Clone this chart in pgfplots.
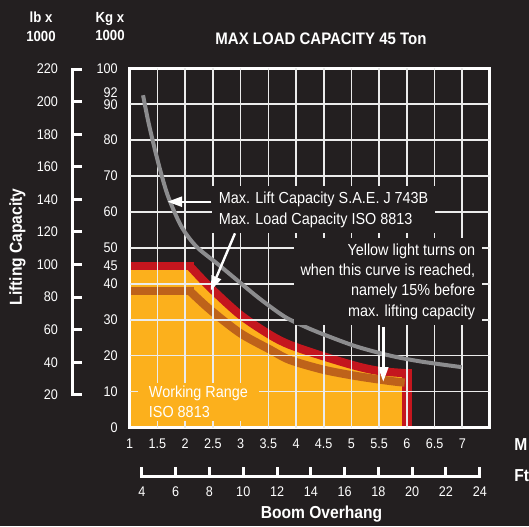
\documentclass[border=0pt]{standalone}
\usepackage{fontspec}
\setmainfont{Liberation Sans}[FakeStretch=0.9]
\usepackage{xcolor}
\usepackage{pgfplots}
\pgfplotsset{compat=1.18}
\usetikzlibrary{arrows.meta}
\definecolor{bgc}{RGB}{35,31,32}
\definecolor{yel}{RGB}{252,176,28}
\definecolor{redc}{RGB}{196,22,30}
\definecolor{orng}{RGB}{190,98,26}
\definecolor{greyc}{RGB}{140,140,142}
\definecolor{gridc}{RGB}{235,235,235}
\pagecolor{bgc}

\pgfplotsset{
  chartbox/.style={
    scale only axis, width=270.19pt, height=269.4pt,
    xmin=1, xmax=7.5, ymin=0, ymax=100,
    xtick={1,1.5,2,2.5,3,3.5,4,4.5,5,5.5,6,6.5,7},
    ytick={0,10,...,100},
  },
}

\begin{document}
\begin{tikzpicture}

% bands, kg x 1000 against metres
\begin{axis}[
  chartbox,
  axis line style={draw=none},
  xticklabels={1,1.5,2,2.5,3,3.5,4,4.5,5,5.5,6,6.5,7},
  extra y ticks={45,92},
  extra y tick labels={45,\raisebox{6.5pt}{92}},
  major tick length=0pt,
  ticklabel style={white, font=\fontsize{10.5}{12}\selectfont},
  xticklabel style={anchor=base, yshift=-16.1pt},
  yticklabel style={xshift=-5.5pt},
  /pgf/number format/assume math mode=true,
]
% working range (yellow)
\addplot[draw=none, fill=yel]
  coordinates {(1,45.0) (2.08,45.0)} \closedcycle;
\addplot[draw=none, fill=yel, smooth]
  coordinates {(2.08,45.0) (2.45,39.0) (2.99,31.4) (3.53,25.8) (3.89,23.0)
               (4.49,19.85) (5.1,17.05) (5.52,15.7) (6.0,15.1)} \closedcycle;
% max load capacity ISO 8813 (red band)
\addplot[redc, line width=6.2pt, line cap=rect]
  coordinates {(1,45.0) (2.08,45.0)};
\addplot[redc, line width=6.2pt, smooth]
  coordinates {(2.08,45.0) (2.45,39.0) (2.99,31.4) (3.53,25.8) (3.89,23.0)
               (4.49,19.85) (5.1,17.05) (5.52,15.7) (6.0,15.1)};
\addplot[redc, line width=7pt, line cap=rect]
  coordinates {(6.0,15.1) (6.0,0)};
% yellow light curve (orange band)
\addplot[orng, line width=6.2pt, line cap=rect]
  coordinates {(1,38.05) (2.08,38.05)};
\addplot[orng, line width=6.2pt, smooth]
  coordinates {(2.08,38.05) (2.45,32.8) (2.99,26.3) (3.53,21.7) (3.89,18.8)
               (4.49,16.1) (5.1,14.3) (5.7,12.95) (5.96,12.5)};
\end{axis}

% grid, frame, grey curve and notes over the bands
\begin{axis}[
  chartbox,
  clip=false,
  xticklabels={}, yticklabels={},
  major tick length=0pt,
  axis line style={white, line width=2.25pt},
]
\pgfplotsinvokeforeach{1.5,2,2.5,3,3.5,4,4.5,5,5.5,6,6.5,7}{
  \draw[gridc, line width=1.2pt] (axis cs:#1,0) -- (axis cs:#1,100);
}
\pgfplotsinvokeforeach{10,20,30,40,50,60,70,80,90}{
  \draw[gridc, line width=1.2pt] (axis cs:1,#1) -- (axis cs:7.5,#1);
}
% max lift capacity SAE J 743B (grey)
\addplot[greyc, line width=3pt, smooth]
  coordinates {(1.24,92.5) (1.33,85.5) (1.45,77.6) (1.57,70.5) (1.70,64.0)
               (1.93,56.0) (2.2,50.4) (2.58,45.6) (2.97,40.6) (3.35,35.8)
               (3.8,30.8) (4.2,27.8) (4.6,25.3) (5.1,22.5) (5.7,20.0)
               (6.24,18.4) (6.99,16.8)};

\node[fill=bgc, text=white, anchor=west, align=left, inner xsep=5pt, inner ysep=4pt,
      font=\fontsize{12}{15.75}\selectfont]
  at (axis cs:2.484,60.69) {Max. Lift Capacity S.A.E. J 743B\\Max. Load Capacity ISO 8813};
\node[fill=bgc, text=white, anchor=east, align=right, inner xsep=5pt, inner ysep=4pt,
      font=\fontsize{12}{15.25}\selectfont]
  at (axis cs:7.356,40.65) {Yellow light turns on\\when this curve is reached,\\namely 15\% before\hspace*{3pt}\\max. lifting capacity};
\node[fill=yel, text=white, anchor=west, align=left, inner xsep=8pt, inner ysep=2pt,
      font=\fontsize{12}{15}\selectfont]
  at (axis cs:1.149,7.1) {Working Range\\ISO 8813};
\draw[white, line width=1.8pt, -{Triangle[length=11pt,width=7.5pt]}]
  (axis cs:2.471,62.86) -- (axis cs:1.68,62.86);
\draw[white, line width=1.8pt, -{Triangle[length=11pt,width=7.5pt]}]
  (axis cs:2.899,54.06) -- (axis cs:2.461,38.09);
\draw[white, line width=1.8pt, -{Triangle[length=11pt,width=7.5pt]}]
  (axis cs:5.575,28.06) -- (axis cs:5.575,12.75);
\end{axis}

% lb x 1000 scale
\begin{axis}[
  at={(-42.94pt,24.44pt)}, anchor=south west,
  scale only axis, width=10pt, height=244.4pt,
  xmin=0, xmax=1, ymin=20, ymax=220,
  axis x line=none, axis y line=left,
  axis line style={-, white, line width=2.25pt, line cap=rect},
  ytick={20,40,...,220},
  tick align=inside, major tick length=7.1pt,
  tick style={white, line width=2.25pt},
  yticklabel style={white, font=\fontsize{10.5}{12}\selectfont, xshift=-7.4pt},
  /pgf/number format/assume math mode=true,
]
\addplot[draw=none] coordinates {(0,20) (1,220)};
\end{axis}

% feet scale
\begin{axis}[
  at={(9.11pt,-37.1pt)}, anchor=south west,
  scale only axis, width=253.4pt, height=10pt,
  xmin=4, xmax=24, ymin=0, ymax=1,
  axis y line=none, axis x line=bottom,
  axis line style={-, white, line width=2.25pt, line cap=rect},
  xtick={4,6,...,24},
  tick align=inside, major tick length=7.3pt,
  tick style={white, line width=2.25pt},
  xticklabel style={white, font=\fontsize{10.5}{12}\selectfont, anchor=base, yshift=-15pt},
  /pgf/number format/assume math mode=true,
]
\addplot[draw=none] coordinates {(4,0) (24,1)};
\end{axis}

% titles and labels
\node[text=white, font=\bfseries\fontsize{12.5}{15}\selectfont] at (143.44pt,291.6pt) {MAX LOAD CAPACITY 45 Ton};
\node[text=white, align=center, font=\bfseries\fontsize{11}{13.9}\selectfont] at (-66.56pt,300.6pt) {lb x\\1000};
\node[text=white, align=center, font=\bfseries\fontsize{11}{13.9}\selectfont] at (-14.81pt,300.6pt) {Kg x\\1000};
\node[text=white, rotate=90, font=\bfseries\fontsize{13}{15}\selectfont] at (-84.2pt,135.4pt) {Lifting Capacity};
\node[text=white, anchor=base, font=\bfseries\fontsize{13}{15}\selectfont] at (143.8pt,-68.1pt) {Boom Overhang};
\node[text=white, anchor=base west, inner sep=0pt, font=\bfseries\fontsize{13}{15}\selectfont] at (288.2pt,-16.9pt) {M};
\node[text=white, anchor=base west, inner sep=0pt, font=\bfseries\fontsize{13}{15}\selectfont] at (288.2pt,-40.65pt) {Ft};
% picture frame, as large as the reference
\path (-97.31pt,-70.875pt) rectangle (299.44pt,320.625pt);
\end{tikzpicture}
\end{document}
